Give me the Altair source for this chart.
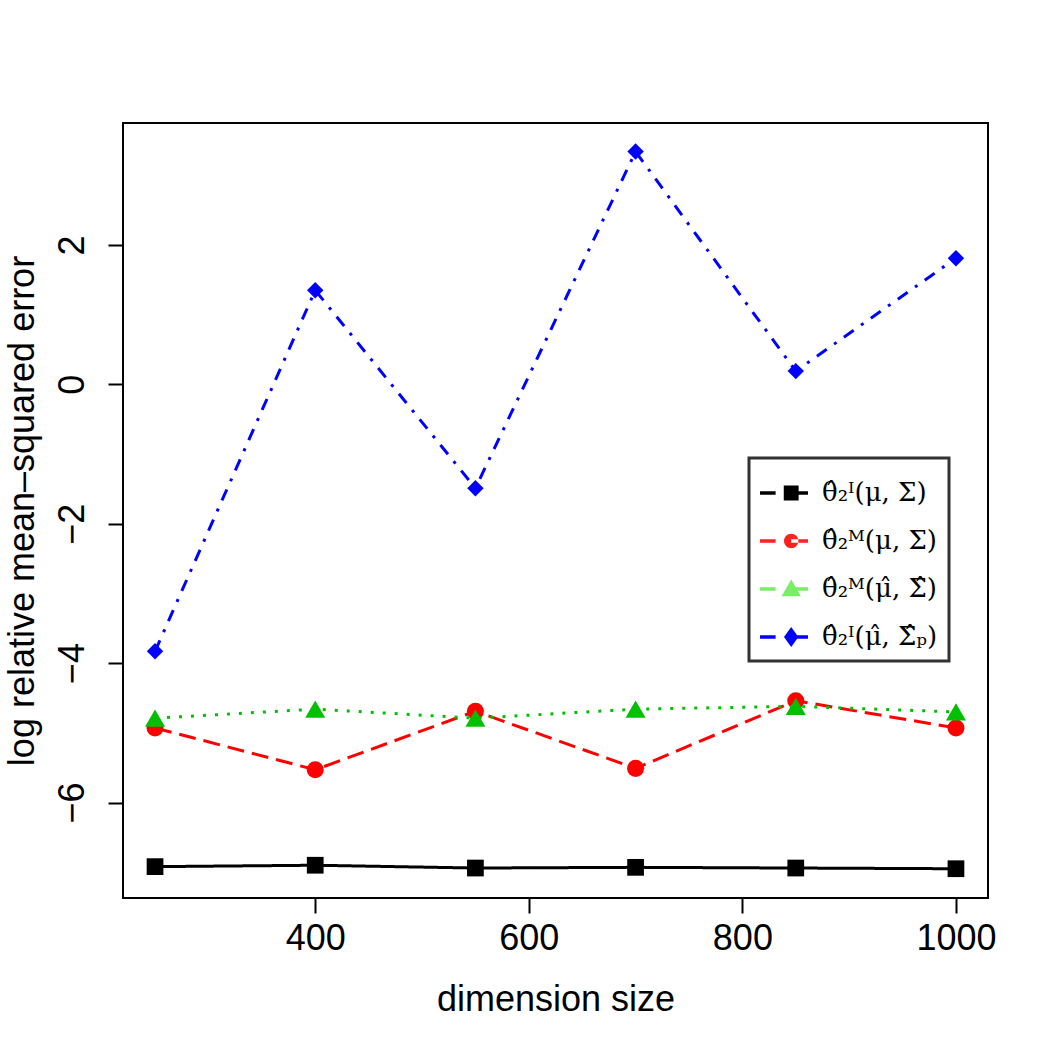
import altair as alt
import pandas as pd

dims = [250, 400, 550, 700, 850, 1000]
black_vals = [-6.92, -6.90, -6.94, -6.93, -6.94, -6.95]
red_vals = [-4.93, -5.53, -4.69, -5.51, -4.54, -4.93]
green_vals = [-4.79, -4.66, -4.79, -4.66, -4.62, -4.70]
blue_vals = [-3.83, 1.35, -1.49, 3.34, 0.19, 1.81]

labels = ["θ̂₂ᴵ(μ, Σ)", "θ̂₂ᴹ(μ, Σ)", "θ̂₂ᴹ(μ̂, Σ̂)", "θ̂₂ᴵ(μ̂, Σ̂ₚ)"]
line_colors = ["#000000", "#FF0000", "#00C000", "#0000FF"]
legend_colors = ["#000000", "#FF2020", "#77EE66", "#0000FF"]
dashes = [[1, 0], [17, 8], [3, 9], [12, 9, 3, 9]]
shapes = ["square", "circle", "triangle-up", "diamond"]
sizes = [280, 290, 400, 270]
series = [black_vals, red_vals, green_vals, blue_vals]

legend_paths = [
    "M-1,-0.07H-0.35V0.07H-1Z M0.3,-0.07H1V0.07H0.3Z M-0.01,-0.31H0.61V0.31H-0.01Z",
    "M-1,-0.07H-0.35V0.07H-1Z M0.3,-0.07H1V0.07H0.3Z M0,0A0.3,0.3 0 1,0 0.6,0A0.3,0.3 0 1,0 0,0Z",
    "M-1,-0.07H-0.35V0.07H-1Z M0.3,-0.07H1V0.07H0.3Z M0.3,-0.4L0.7,0.3H-0.1Z",
    "M-1,-0.07H-0.35V0.07H-1Z M0.3,-0.07H1V0.07H0.3Z M0.3,-0.42L0.6,0L0.3,0.42L0,0Z",
]

rows = []
for lab, vals in zip(labels, series):
    for d, v in zip(dims, vals):
        rows.append({"dim": d, "val": v, "label": lab})
df = pd.DataFrame(rows)

xscale = alt.Scale(domain=[220, 1030], nice=False, zero=False)
yscale = alt.Scale(domain=[-7.37, 3.75], nice=False, zero=False)

xaxis = alt.Axis(values=[400, 600, 800, 1000], format="d", title="dimension size",
                 labelFlush=False, labelPadding=8, titlePadding=26)
yaxis = alt.Axis(values=[-6, -4, -2, 0, 2], format="d", title="log relative mean–squared error",
                 labelAngle=270, labelAlign="center", labelBaseline="bottom",
                 labelPadding=17, titlePadding=13)

layers = []
for i, lab in enumerate(labels):
    base = alt.Chart(df).transform_filter(alt.datum.label == lab)
    line = base.mark_line(color=line_colors[i], strokeWidth=3,
                          strokeDash=dashes[i]).encode(
        x=alt.X("dim:Q", scale=xscale, axis=xaxis),
        y=alt.Y("val:Q", scale=yscale, axis=yaxis),
    )
    pts = base.mark_point(filled=True, opacity=1, color=line_colors[i],
                          shape=shapes[i], size=sizes[i]).encode(
        x=alt.X("dim:Q", scale=xscale),
        y=alt.Y("val:Q", scale=yscale),
    )
    layers += [line, pts]

leg = alt.Legend(title=None, orient="none", legendX=626, legendY=335, symbolSize=2300,
                 symbolStrokeWidth=0, symbolOpacity=1, labelFontSize=26,
                 rowPadding=11, padding=11)
legend_layer = alt.Chart(df).transform_filter("false").mark_point(
    filled=True, opacity=1, size=2300
).encode(
    x=alt.X("dim:Q", scale=xscale),
    y=alt.Y("val:Q", scale=yscale),
    color=alt.Color("label:N", scale=alt.Scale(domain=labels, range=legend_colors), legend=leg),
    shape=alt.Shape("label:N", scale=alt.Scale(domain=labels, range=legend_paths), legend=leg),
)
layers.append(legend_layer)

chart = alt.layer(*layers).properties(
    width=865, height=775,
    padding={"left": 123, "top": 123, "right": 62, "bottom": 152},
    autosize=alt.AutoSizeParams(type="none"),
).configure_view(
    stroke="#000000", strokeWidth=2
).configure_axis(
    grid=False, domain=False, ticks=True, tickColor="#000000", tickWidth=2, tickSize=15,
    labelFont="Liberation Sans", labelFontSize=36, labelColor="#000000",
    titleFont="Liberation Sans", titleFontSize=36, titleColor="#000000", titleFontWeight="normal",
).configure_legend(
    symbolSize=2300, symbolStrokeWidth=0, symbolOpacity=1,
    labelFont="DejaVu Serif", labelFontSize=26, labelColor="#000000", labelOffset=14,
    padding=11, rowPadding=11, strokeColor="#333333", strokeWidth=3, fillColor="#FFFFFF",
    labelLimit=300,
)

chart.save("out.html", embed_options={"renderer": "svg", "actions": False})
